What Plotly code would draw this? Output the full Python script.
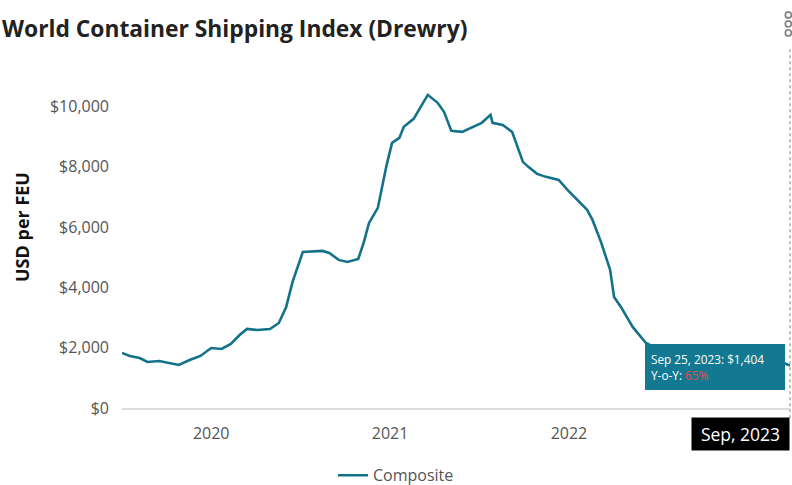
import plotly.graph_objects as go

# ---- data ----
dates = [
    "2020-01-01", "2020-01-17", "2020-02-06", "2020-02-22", "2020-03-17", "2020-04-08",
    "2020-04-26", "2020-05-18", "2020-06-09", "2020-07-01", "2020-07-22", "2020-08-10",
    "2020-08-28", "2020-09-12", "2020-10-03", "2020-10-29", "2020-11-16", "2020-12-01",
    "2020-12-14", "2021-01-04", "2021-02-13", "2021-02-27", "2021-03-18", "2021-04-05",
    "2021-04-27", "2021-05-08", "2021-05-19", "2021-06-06", "2021-06-24", "2021-07-05",
    "2021-07-20", "2021-07-29", "2021-08-18", "2021-09-16", "2021-10-06", "2021-10-19",
    "2021-11-03", "2021-11-25", "2022-01-04", "2022-01-22", "2022-01-26", "2022-02-16",
    "2022-03-07", "2022-03-29", "2022-04-09", "2022-04-27", "2022-05-15", "2022-06-10",
    "2022-06-28", "2022-08-07", "2022-08-18", "2022-09-05", "2022-09-23", "2022-10-01",
    "2022-10-15", "2022-11-08", "2022-12-05", "2023-01-05", "2023-02-01", "2023-03-10",
    "2023-04-20", "2023-05-25", "2023-06-30", "2023-08-01", "2023-08-28", "2023-09-25",
]
composite = [
    1824, 1725, 1658, 1526, 1559, 1493,
    1426, 1592, 1725, 1990, 1957, 2123,
    2421, 2620, 2587, 2620, 2819, 3350,
    4179, 5174, 5207, 5141, 4909, 4842,
    4942, 5473, 6136, 6633, 8060, 8789,
    8955, 9320, 9585, 10381, 10116, 9818,
    9187, 9154, 9453, 9718, 9453, 9386,
    9154, 8159, 7993, 7761, 7662, 7562,
    7231, 6567, 6235, 5473, 4577, 3682,
    3350, 2687, 2156, 1900, 1700, 1680,
    1720, 1750, 1550, 1450, 1600, 1404,
]
y_tick_vals = [0, 2000, 4000, 6000, 8000, 10000]
y_tick_text = ["$0", "$2,000", "$4,000", "$6,000", "$8,000", "$10,000"]
x_tick_vals = ["2020-07-01", "2021-07-01", "2022-07-01"]
x_tick_text = ["2020", "2021", "2022"]

title_text = "World Container Shipping Index (Drewry)"
y_title = "USD per FEU"
series_name = "Composite"
tooltip_text = "Sep 25, 2023: $1,404<br>Y-o-Y: <span style='color:#e5484d'>65%</span>"
crosshair_text = "Sep, 2023"

FONT = "Open Sans"
LINE = "#13728a"

fig = go.Figure()
fig.add_trace(go.Scatter(
    x=dates, y=composite, mode="lines", name=series_name,
    line=dict(color=LINE, width=2.6), hoverinfo="skip",
))

fig.update_layout(
    width=792, height=485,
    margin=dict(l=122, r=2, t=46, b=77, autoexpand=False),
    paper_bgcolor="white", plot_bgcolor="white",
    font=dict(family=FONT, color="#555555", size=13),
    hovermode=False,
    title=dict(text="<b>" + title_text + "</b>", xref="container", yref="container",
               x=0.0, y=0.94, xanchor="left", yanchor="middle",
               pad=dict(l=2, r=0, t=0, b=0),
               font=dict(family=FONT, size=22.8, color="#222222")),
    showlegend=True,
    legend=dict(orientation="h", xref="container", yref="container",
                x=0.5, y=0.02, xanchor="center", yanchor="middle",
                font=dict(family=FONT, size=16, color="#555555")),
    xaxis=dict(type="date", range=["2020-01-01", "2023-09-25"],
               tickvals=x_tick_vals, ticktext=x_tick_text,
               showgrid=False, zeroline=False,
               showline=True, linecolor="#dddddd", linewidth=1.5,
               ticks="", ticklabelstandoff=10,
               tickfont=dict(size=16, color="#555555")),
    yaxis=dict(range=[0, 12000], tickvals=y_tick_vals, ticktext=y_tick_text,
               showgrid=False, zeroline=False, showline=False, ticks="",
               ticklabelstandoff=12, tickfont=dict(size=16, color="#555555")),
)

# y axis title
fig.add_annotation(text="<b>" + y_title + "</b>", xref="paper", yref="paper",
                   x=-0.1497, y=0.5, xanchor="center", yanchor="middle", textangle=-90,
                   showarrow=False, font=dict(family=FONT, size=18, color="#111111"))

# dotted crosshair
fig.add_shape(type="line", xref="paper", yref="paper", x0=1, x1=1, y0=-0.028, y1=1.0,
              line=dict(color="#aaaaaa", width=1.5, dash="dot"))

# tooltip box
fig.add_annotation(text=tooltip_text, xref="paper", yref="y", x=0.9925, y=1360,
                   xanchor="right", yanchor="middle", showarrow=False, align="left",
                   width=128, height=34,
                   bgcolor="#137891", bordercolor="#137891", borderpad=5, borderwidth=1,
                   font=dict(family=FONT, size=11.8, color="white"))

# crosshair date label
fig.add_annotation(text=crosshair_text, xref="paper", yref="paper", x=1.0, y=-0.0718,
                   xanchor="right", yanchor="middle", showarrow=False,
                   bgcolor="black", borderpad=4, width=89, height=24,
                   font=dict(family=FONT, size=17.5, color="white"))

# menu icon (three small rings)
for yy in (1.0856, 1.061, 1.036):
    fig.add_shape(type="circle", xref="paper", yref="paper", xsizemode="pixel", ysizemode="pixel",
                  xanchor=0.9975, yanchor=yy, x0=-3, x1=3, y0=-3, y1=3,
                  line=dict(color="#888888", width=1.8), fillcolor="white")

fig.write_html("out.html", config={"displayModeBar": False},
               post_script="document.body.style.margin='0';")
